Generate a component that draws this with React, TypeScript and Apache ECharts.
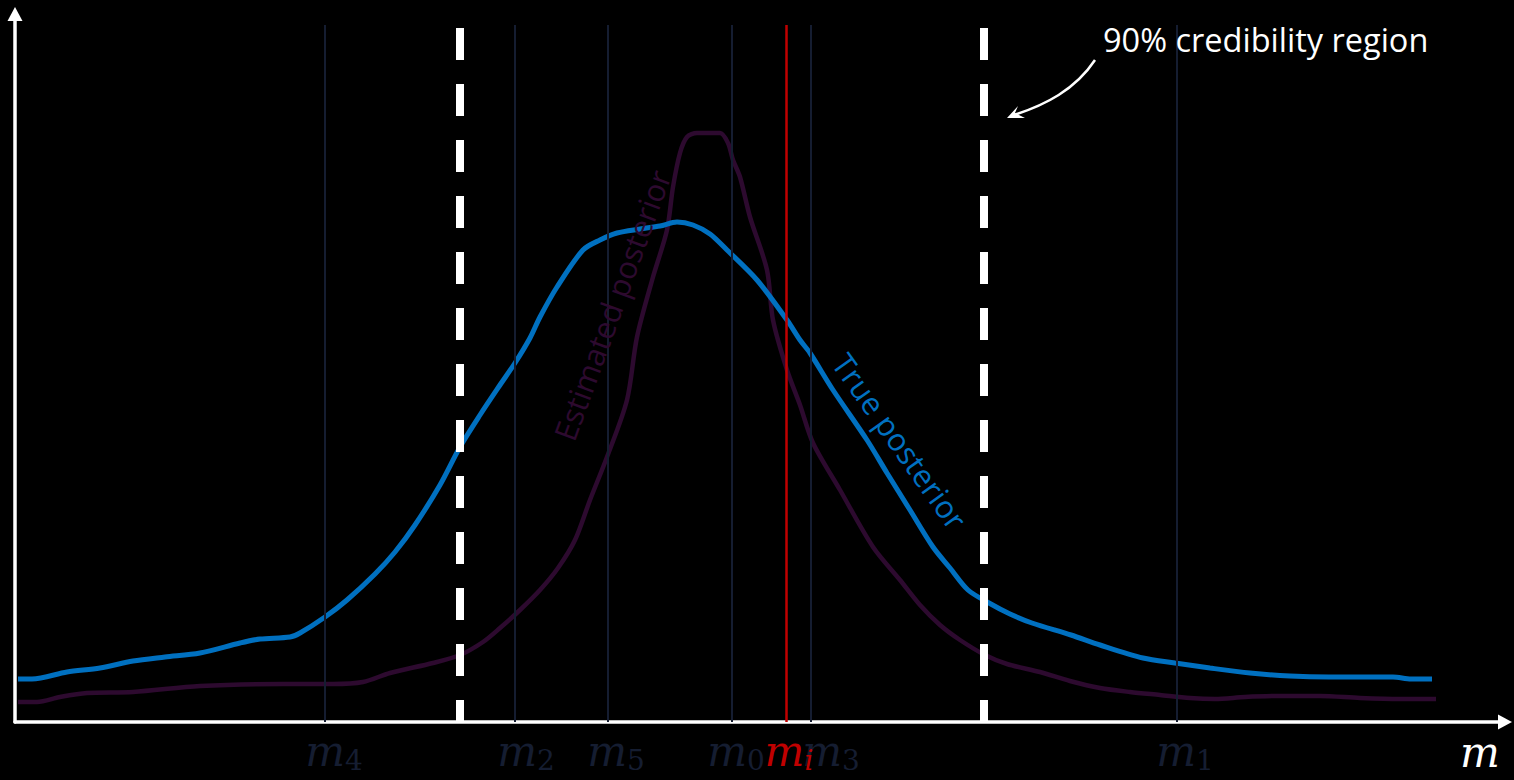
import React, { useEffect, useRef } from "react";
import * as echarts from "echarts";

// True posterior (x position on m axis, density value)
const trueX = [18, 32, 67, 100, 133, 165, 200, 240, 260, 290, 300, 325, 347, 375, 395, 415, 440, 460, 480, 500, 515, 530, 540, 557, 583, 600, 617, 640, 660, 677, 693, 710, 727, 757, 787, 800, 810, 833, 867, 887, 910, 933, 950, 968, 989, 1010, 1032, 1071, 1100, 1143, 1175, 1210, 1250, 1290, 1329, 1393, 1411, 1432];
const trueY = [43, 43, 50, 54, 61, 65, 69, 79, 83, 85, 89, 105, 122, 148, 170, 197, 237, 275, 307, 337, 359, 384, 405, 435, 472, 482, 489, 493, 496, 500, 497, 488, 472, 442, 402, 382, 369, 332, 282, 249, 212, 175, 154, 132, 119, 108, 99, 87, 77, 64, 59, 54, 49, 46, 45, 45, 43, 43];

// Estimated posterior
const estX = [18, 37, 60, 87, 133, 200, 283, 333, 363, 390, 433, 460, 483, 500, 520, 540, 558, 575, 590, 607, 627, 637, 653, 667, 673, 680, 687, 697, 720, 728, 733, 740, 750, 767, 773, 787, 800, 813, 840, 873, 900, 920, 940, 960, 985, 1007, 1040, 1070, 1100, 1130, 1160, 1190, 1215, 1245, 1280, 1320, 1360, 1400, 1436];
const estY = [20, 20, 25, 29, 30, 36, 38, 38, 40, 49, 59, 67, 80, 94, 112, 132, 154, 182, 222, 265, 322, 385, 445, 492, 535, 569, 585, 589, 589, 579, 562, 545, 505, 452, 402, 352, 317, 279, 232, 175, 142, 117, 97, 82, 67, 58, 50, 41, 34, 30, 27, 24, 23, 25, 26, 26, 24, 23, 23];

// Samples on the m axis
const sampleSubs = ["4", "2", "5", "0", "3", "1"];
const samplePositions = [325, 515, 608, 732, 811, 1177];
const observedSub = "i";
const observedPosition = 786;
const credibleBounds = [460, 984];
const markTop = 697;
const dashTop = 694;

const NAVY = "#151d31";
const PURPLE = "#2d0a2f";
const BLUE = "#0070c0";
const RED = "#c00000";

const serif = "DejaVu Serif";
const sans = "Open Sans";

export default function App() {
  const ref = useRef<HTMLDivElement>(null);
  useEffect(() => {
    if (!ref.current) return;
    const chart = echarts.init(ref.current, undefined, { renderer: "svg" });
    const pairs = (xs: number[], ys: number[]) => xs.map((x, i) => [x, ys[i]]);
    const labelOffsets = [9, 11, 8, 4, 20, 8];

    const sampleLines = samplePositions.map((p, i) => [
      {
        coord: [p, 0],
        label: {
          show: true,
          position: "start",
          distance: 6,
          offset: [labelOffsets[i], 0],
          formatter: `{m|m}{s|${sampleSubs[i]}}`,
          rich: {
            m: { fontFamily: serif, fontStyle: "italic", fontSize: 42, color: NAVY, lineHeight: 46 },
            s: { fontFamily: serif, fontSize: 28, color: NAVY, lineHeight: 30, verticalAlign: "bottom" },
          },
        },
      },
      { coord: [p, markTop] },
    ]);

    chart.setOption({
      animation: false,
      backgroundColor: "#000",
      grid: { left: 15, top: 14, right: 9, bottom: 58 },
      xAxis: {
        type: "value",
        min: 15,
        max: 1505,
        axisLine: {
          show: true,
          lineStyle: { color: "#fff", width: 3.5 },
          symbol: ["none", "triangle"],
          symbolSize: [15, 14],
        },
        axisTick: { show: false },
        axisLabel: { show: false },
        splitLine: { show: false },
      },
      yAxis: {
        type: "value",
        min: 0,
        max: 708,
        axisLine: {
          show: true,
          onZero: false,
          lineStyle: { color: "#fff", width: 3.5 },
          symbol: ["none", "triangle"],
          symbolSize: [15, 14],
        },
        axisTick: { show: false },
        axisLabel: { show: false },
        splitLine: { show: false },
      },
      series: [
        {
          type: "line",
          name: "samples",
          data: [],
          z: 1,
          markLine: {
            silent: true,
            symbol: ["none", "none"],
            lineStyle: { color: NAVY, width: 2, type: "solid" },
            data: sampleLines,
          },
        },
        {
          type: "line",
          name: "Estimated posterior",
          data: pairs(estX, estY),
          smooth: 0.3,
          showSymbol: false,
          z: 2,
          lineStyle: { color: PURPLE, width: 4.5 },
        },
        {
          type: "line",
          name: "True posterior",
          data: pairs(trueX, trueY),
          smooth: 0.3,
          showSymbol: false,
          z: 3,
          lineStyle: { color: BLUE, width: 5 },
        },
        {
          type: "line",
          name: "bounds",
          data: [],
          z: 4,
          markLine: {
            silent: true,
            symbol: ["none", "none"],
            label: { show: false },
            data: [
              ...credibleBounds.map((b) => [
                { coord: [b, dashTop], lineStyle: { color: "#fff", width: 8, type: [32, 24], cap: "butt" } },
                { coord: [b, 0] },
              ]),
              [
                {
                  coord: [observedPosition, 0],
                  lineStyle: { color: RED, width: 2.5, type: "solid" },
                  label: {
                    show: true,
                    position: "start",
                    distance: 6,
                    offset: [3, 0],
                    formatter: `{m|m}{s|${observedSub}}`,
                    rich: {
                      m: { fontFamily: serif, fontStyle: "italic", fontSize: 42, color: RED, lineHeight: 46 },
                      s: { fontFamily: serif, fontStyle: "italic", fontSize: 28, color: RED, lineHeight: 30, verticalAlign: "bottom" },
                    },
                  },
                },
                { coord: [observedPosition, markTop] },
              ],
            ],
          },
        },
      ],
      graphic: [
        {
          type: "text",
          x: 612,
          y: 305,
          rotation: (70 * Math.PI) / 180,
          style: { text: "Estimated posterior", fill: PURPLE, font: `31px "${sans}"`, align: "center", verticalAlign: "middle" },
          z: 10,
        },
        {
          type: "text",
          x: 900,
          y: 441,
          rotation: (-54.6 * Math.PI) / 180,
          style: { text: "True posterior", fill: BLUE, font: `31px "${sans}"`, align: "center", verticalAlign: "middle" },
          z: 10,
        },
        {
          type: "text",
          x: 1103,
          y: 39,
          style: { text: "90% credibility region", fill: "#fff", font: `32.5px "${sans}"`, align: "left", verticalAlign: "middle" },
          z: 10,
        },
        {
          type: "text",
          x: 1480,
          y: 752,
          style: { text: "m", fill: "#fff", font: `italic 42px "${serif}"`, align: "center", verticalAlign: "middle" },
          z: 10,
        },
        {
          type: "bezierCurve",
          shape: { x1: 1095, y1: 60, cpx1: 1075, cpy1: 90, cpx2: 1045, cpy2: 105, x2: 1014, y2: 115 },
          style: { stroke: "#fff", lineWidth: 2.5, fill: "none" },
          z: 10,
        },
        {
          type: "polygon",
          shape: { points: [[1007, 118], [1018, 106], [1015, 113], [1025, 118]] },
          style: { fill: "#fff" },
          z: 10,
        },
      ],
    });
    return () => chart.dispose();
  }, []);
  return <div ref={ref} style={{ position: "fixed", left: 0, top: 0, width: 1514, height: 780 }} />;
}
